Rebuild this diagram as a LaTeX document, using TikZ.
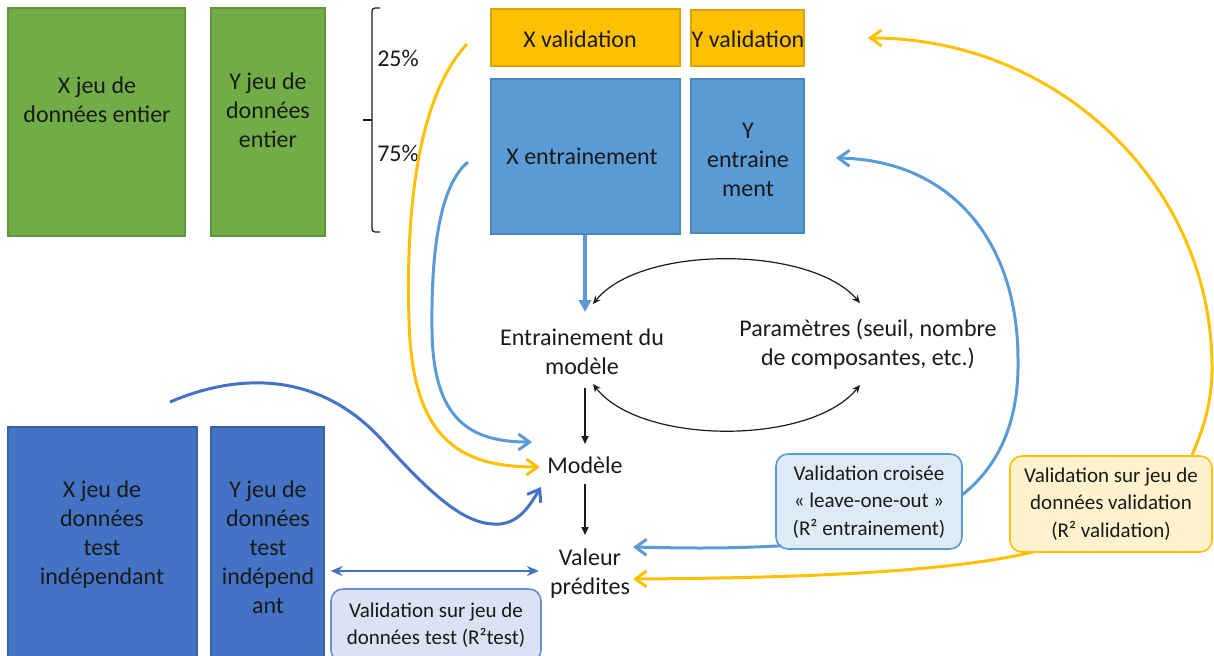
\documentclass[tikz,border=0pt]{standalone}
\usepackage{fontspec}
\setmainfont{Carlito}
\usetikzlibrary{arrows.meta}
\definecolor{cgreen}{HTML}{70AD47}
\definecolor{cgreenb}{HTML}{5E9639}
\definecolor{cyel}{HTML}{FFC000}
\definecolor{cyelb}{HTML}{D9A300}
\definecolor{cblue}{HTML}{5B9BD5}
\definecolor{cblueb}{HTML}{4A86BE}
\definecolor{cdblue}{HTML}{4472C4}
\definecolor{cdblueb}{HTML}{3A62A8}
\definecolor{lblue}{HTML}{DEEBF7}
\definecolor{lyel}{HTML}{FFF2CC}
\definecolor{ldblue}{HTML}{DAE3F3}
\definecolor{ink}{HTML}{1A1A1A}
\begin{document}
\begin{tikzpicture}[x=0.5pt,y=-0.5pt,
  sz/.style 2 args={minimum width=#1*0.5pt, minimum height=#2*0.5pt},
  cell/.style={line width=0.6pt, inner sep=0, rectangle},
  gbox/.style={cell, draw=cgreenb, fill=cgreen},
  ybox/.style={cell, draw=cyelb, fill=cyel},
  bbox/.style={cell, draw=cblueb, fill=cblue},
  dbox/.style={cell, draw=cdblueb, fill=cdblue},
  txt/.style={align=center, inner sep=0, text=ink, font=\fontsize{12}{14.5}\selectfont},
  stxt/.style={align=center, inner sep=0, text=ink, font=\fontsize{10.5}{13.6}\selectfont},
  rbox/.style={rectangle, rounded corners=6pt, line width=0.8pt, inner sep=0},
  barb/.style={line width=1.5pt, -{Straight Barb[length=5.5pt,width=8pt]}},
  blk/.style={line width=0.75pt, ink, -{Triangle[length=4pt,width=3.5pt]}},
  blkarc/.style={line width=0.6pt, ink, {Stealth[length=4pt,width=3.5pt]}-{Stealth[length=4pt,width=3.5pt]}},
]
\useasboundingbox (0,0) rectangle (1214,655);
\clip (0,0) rectangle (1214,655);

% green boxes
\node[gbox, sz={177}{228}] (gx) at (96.5,122) {};
\node[txt] (gxt) at (97,100) {X jeu de\\données entier};
\node[gbox, sz={114}{228}] (gy) at (268,122) {};
\node[txt] (gyt) at (268,110) {Y jeu de\\données\\entier};

% brace
\draw[line width=0.6pt, ink, rounded corners=1.5pt] (380,8) -- (372,8) -- (372,232) -- (380,232);
\draw[line width=0.6pt, ink] (372,120) -- (363,120);
\node[txt] (p25) at (398,58) {25\%};
\node[txt] (p75) at (398,153) {75\%};

% split boxes
\node[ybox, sz={189}{57}] (xv) at (585.5,37.5) {};
\node[txt] (xvt) at (580,39) {X validation};
\node[ybox, sz={113}{56}] (yv) at (747.5,38) {};
\node[txt] (yvt) at (748,39) {Y validation};
\node[bbox, sz={189}{155}] (xt) at (585.5,156.5) {};
\node[txt] (xtt) at (582,156) {X entrainement};
\node[bbox, sz={113}{154}] (yt) at (747.5,156) {};
\node[txt] (ytt) at (748,160) {Y\\entraine\\ment};

% test boxes
\node[dbox, sz={189}{235}] (tx) at (102.5,544.5) {};
\node[txt] (txt1) at (102,535) {X jeu de\\données\\test\\indépendant};
\node[dbox, sz={113}{235}] (ty) at (267.5,544.5) {};
\node[txt] (tyt) at (268,547) {Y jeu de\\données\\test\\indépend\\ant};

% central labels
\node[txt] (entr) at (582,352) {Entrainement du\\modèle};
\node[txt] (param) at (868,344) {Paramètres (seuil, nombre\\de composantes, etc.)};
\node[txt] (mod) at (585,465) {Modèle};
\node[txt] (val) at (590,574) {Valeur\\prédites};

% rounded label boxes
\node[rbox, draw=cblue, fill=lblue, sz={186}{95}] (loo) at (869,501.5) {};
\node[stxt] (loot) at (869,502) {Validation croisée\\« leave-one-out »\\(R² entrainement)};
\node[rbox, draw=cyel, fill=lyel, sz={202}{96}] (vv) at (1111,504) {};
\node[stxt] (vvt) at (1111,504) {Validation sur jeu de\\données validation\\(R² validation)};
\node[rbox, draw=cdblue!80, fill=ldblue, sz={210}{73}] (vt) at (436,625.5) {};
\node[stxt] (vtt) at (436,625) {Validation sur jeu de\\données test (R²test)};

% coordinates for connector ends
\coordinate (a1) at (593,304);
\coordinate (a2) at (860,303);
\coordinate (b1) at (593,384);
\coordinate (b2) at (860,385);

% training arrow
\draw[cblue, line width=1.6pt, -{Triangle[length=6pt,width=6pt]}] (xt.south -| 585,0) -- (585,312);

% black arcs
\draw[blkarc] (a1) .. controls (640,245) and (810,245) .. (a2);
\draw[blkarc] (b1) .. controls (640,445) and (810,446) .. (b2);

% vertical black arrows
\draw[blk] (entr.south -| 585,0) ++(0,13) -- (585,444);
\draw[blk] (585,484) -- (585,535);

% curves into Modele
\draw[barb, cyel] (467,44) .. controls (415,100) and (406,220) .. (409,320) .. controls (412,440) and (460,467) .. (540,467);
\draw[barb, cblue] (468,162) .. controls (440,185) and (431,250) .. (432,330) .. controls (433,420) and (470,442) .. (532,442);
\draw[barb, cdblue] (170,402) .. controls (240,372) and (320,372) .. (382,440) .. controls (440,505) and (470,526) .. (500,524) .. controls (520,522) and (530,505) .. (541,487);

% test double arrow
\draw[cdblue, line width=1.4pt, {Stealth[length=6pt,width=5pt]}-{Stealth[length=6pt,width=5pt]}] (ty.east |- 0,571) ++(6,0) -- (539,571);

% validation arrows back to predictions
\draw[barb, cblue] (loo.south west) ++(6,-4) .. controls (720,549) and (680,548) .. (633,547);
\draw[barb, cyel] (1033,552) .. controls (950,572) and (800,578) .. (633,579);

% big arcs
\draw[barb, cblue] (962,495) .. controls (1000,465) and (1019,420) .. (1018,360) .. controls (1018,240) and (950,160) .. (836,158);
\draw[barb, cyel] (1192,455) .. controls (1205,425) and (1212,400) .. (1212,367) .. controls (1212,185) and (1058,38) .. (868,38);
\end{tikzpicture}
\end{document}
